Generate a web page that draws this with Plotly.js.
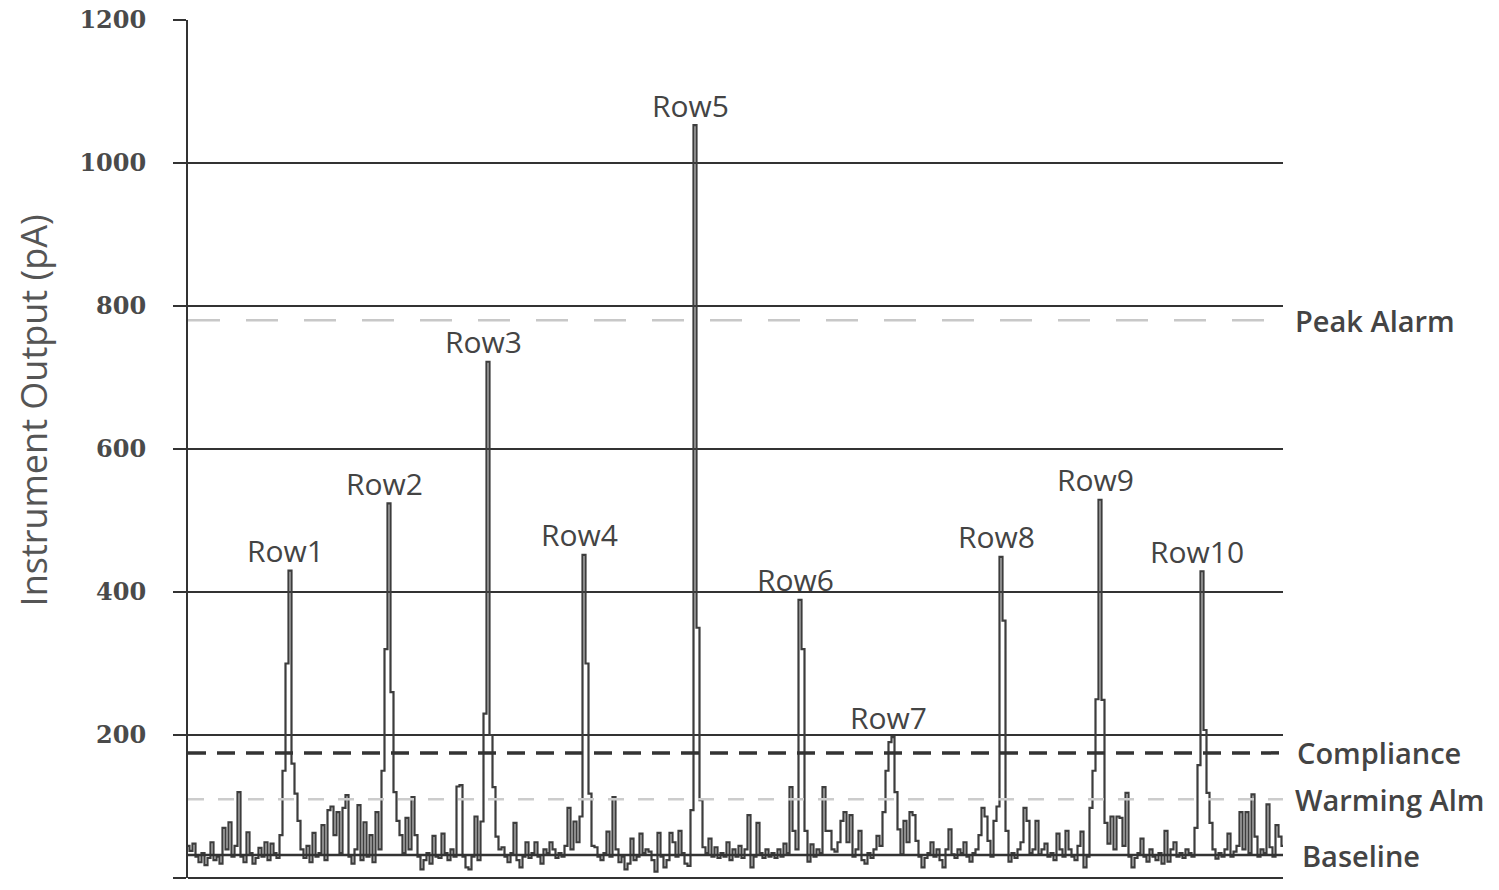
<!DOCTYPE html>
<html>
<head>
<meta charset="utf-8">
<script src="https://cdn.plot.ly/plotly-3.0.1.min.js"></script>
<style>html,body{margin:0;padding:0;background:#fff;}#chart{width:1499px;height:890px;}</style>
</head>
<body>
<div id="chart"></div>
<script>
// Instrument output signal (pA), one sample per step
const signal = [
 45,38,48,30,22,35,18,28,50,25,30,20,70,40,78,30,45,120,30,22,
 64,35,20,28,42,30,50,25,48,35,28,60,150,300,430,160,118,80,40,28,
 45,22,63,30,35,74,25,95,100,60,92,35,98,116,30,20,40,102,25,78,
 30,60,22,92,40,150,320,524,260,120,80,60,35,
 84,40,113,60,30,12,25,35,20,59,30,28,62,35,25,40,30,128,130,30,
 15,12,30,86,25,79,230,722,200,127,58,40,43,30,22,35,77,25,15,30,
 50,28,35,50,30,20,40,35,50,40,28,35,30,45,98,40,79,50,86,452,
 300,118,45,43,30,25,35,65,30,113,40,22,30,
 12,20,55,25,30,62,35,40,37,25,9,63,30,15,25,63,50,30,66,35,
 20,17,95,1053,350,109,43,35,55,30,43,28,35,30,50,25,40,30,45,28,
 40,88,15,30,77,35,28,40,30,35,28,40,30,48,35,127,66,40,389,320,
 66,23,47,30,40,35,127,66,66,40,37,50,80,
 92,50,88,30,40,66,25,20,35,28,40,59,45,92,150,190,197,120,68,33,
 80,50,92,88,52,30,15,28,35,50,30,40,25,15,40,68,33,28,40,35,
 50,30,23,35,40,60,98,86,52,30,80,100,449,360,66,23,35,28,40,50,
 98,80,35,40,80,33,40,48,30,35,25,62,40,
 30,66,40,30,25,45,65,15,30,98,150,250,529,249,77,48,86,40,86,84,
 45,119,30,15,28,35,55,30,23,40,30,25,35,20,66,23,40,50,30,35,
 28,40,35,30,70,158,429,207,119,77,40,27,35,30,40,62,30,37,45,92,
 40,92,35,117,58,30,40,35,103,43,30,74,58,45
];
const sampleIdx = signal.map((v, i) => i);

// Row peaks: label and sample index of the peak
const rowLabels = ["Row1","Row2","Row3","Row4","Row5","Row6","Row7","Row8","Row9","Row10"];
const rowPeakIdx = [34, 67, 100, 132, 169, 204, 235, 271, 304, 338];

// Threshold lines (pA)
const thresholdNames = ["Peak Alarm", "Compliance", "Warming Alm", "Baseline"];
const thresholdValues = [780, 175, 110, 32];

const yTicks = [0, 200, 400, 600, 800, 1000, 1200];

const lineStyles = [
  {color: "#c8c8c8", width: 2.5, dash: "32px,26px"},
  {color: "#333333", width: 3.5, dash: "18px,11px"},
  {color: "#cccccc", width: 2.5, dash: "16px,14px"},
  {color: "#333333", width: 2.5, dash: "solid"}
];

const xEnd = sampleIdx[sampleIdx.length - 1];
const traces = [{
  x: sampleIdx, y: signal, type: "scatter", mode: "lines",
  line: {color: "#3d3d3d", width: 2.2, shape: "hvh"}, hoverinfo: "skip"
}];
thresholdValues.forEach((v, k) => {
  traces.push({
    x: [0, xEnd], y: [v, v], type: "scatter", mode: "lines",
    line: lineStyles[k], hoverinfo: "skip"
  });
});

const annotations = [];
rowLabels.forEach((t, k) => {
  const xi = rowPeakIdx[k];
  annotations.push({
    x: xi, y: signal[xi], xref: "x", yref: "y", text: t, showarrow: false,
    yanchor: "middle", xanchor: "center", yshift: 20, xshift: -5,
    font: {family: "Open Sans", size: 30, color: "#444"}
  });
});
const rShift = [10, 12, 10, 17];
thresholdNames.forEach((t, k) => {
  annotations.push({
    x: 1, y: thresholdValues[k], xref: "paper", yref: "y", text: t, showarrow: false,
    xanchor: "left", yanchor: "middle", xshift: rShift[k],
    font: {family: "Open Sans", size: 29, color: "#444", weight: 600}
  });
});
// y-axis title, placed where the reference draws it
annotations.push({
  x: 0, y: 0.545, xref: "paper", yref: "paper", text: "Instrument Output (pA)",
  showarrow: false, textangle: -90, xanchor: "center", yanchor: "middle", xshift: -155,
  font: {family: "Open Sans", size: 36, color: "#555"}
});

const layout = {
  width: 1499, height: 890,
  margin: {l: 188, r: 216, t: 20, b: 12},
  paper_bgcolor: "#fff", plot_bgcolor: "#fff",
  showlegend: false,
  xaxis: {range: [0, xEnd], showgrid: false, zeroline: false, showline: false,
          showticklabels: false, ticks: "", fixedrange: true},
  yaxis: {range: [0, 1200], tickvals: yTicks, ticktext: yTicks.map(String),
          showgrid: true, gridcolor: "#333", gridwidth: 1.5,
          zeroline: true, zerolinecolor: "#333", zerolinewidth: 1.5,
          showline: true, linecolor: "#333", linewidth: 2,
          ticks: "outside", ticklen: 13, tickcolor: "#333", tickwidth: 1.5,
          ticklabelstandoff: 22,
          tickfont: {family: "DejaVu Serif", size: 24, color: "#4a4a4a", weight: "bold"},
          automargin: false, fixedrange: true},
  annotations: annotations
};

Plotly.newPlot("chart", traces, layout, {staticPlot: true});
</script>
</body>
</html>
